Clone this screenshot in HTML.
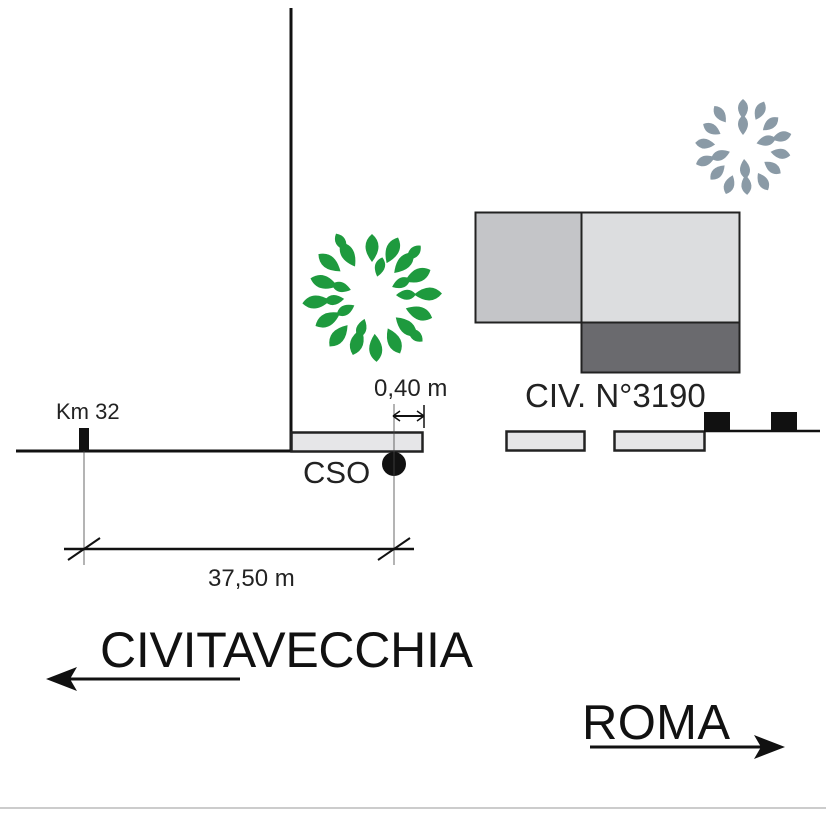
<!DOCTYPE html>
<html><head><meta charset="utf-8"><style>body{margin:0;background:#fff}svg{display:block}</style></head><body>
<svg width="826" height="826" viewBox="0 0 826 826" xmlns="http://www.w3.org/2000/svg" font-family="Liberation Sans, sans-serif">
<defs>
<path id="lf" d="M0,-14 Q13,-3 0,14 Q-13,-3 0,-14Z"/>
<path id="lg" d="M0,-10 Q10,-2 0,10 Q-10,-2 0,-10Z"/>
</defs>
<rect x="475.5" y="212.5" width="106" height="110" fill="#c4c5c8" stroke="#222" stroke-width="2"/>
<rect x="581.5" y="212.5" width="158" height="110" fill="#dcdddf" stroke="#222" stroke-width="2"/>
<rect x="581.5" y="322.5" width="158" height="50" fill="#6a6a6e" stroke="#222" stroke-width="2"/>
<g fill="#1e9a3e" transform="translate(372,296)">
<g transform="rotate(0)"><use href="#lf" y="-48"/><use href="#lg" y="-30" transform="rotate(15)"/></g>
<g transform="rotate(24)"><use href="#lf" y="-50"/></g>
<g transform="rotate(44)"><use href="#lf" y="-46"/><use href="#lg" y="-60"/></g>
<g transform="rotate(66)"><use href="#lf" y="-50"/><use href="#lg" y="-32"/></g>
<g transform="rotate(88)"><use href="#lf" y="-56"/><use href="#lg" y="-34"/></g>
<g transform="rotate(110)"><use href="#lf" y="-50"/></g>
<g transform="rotate(132)"><use href="#lf" y="-46"/><use href="#lg" y="-58"/></g>
<g transform="rotate(154)"><use href="#lf" y="-50"/></g>
<g transform="rotate(176)"><use href="#lf" y="-52"/></g>
<g transform="rotate(198)"><use href="#lf" y="-48"/><use href="#lg" y="-34"/></g>
<g transform="rotate(220)"><use href="#lf" y="-52"/></g>
<g transform="rotate(242)"><use href="#lf" y="-50"/><use href="#lg" y="-30"/></g>
<g transform="rotate(264)"><use href="#lf" y="-56"/><use href="#lg" y="-38"/></g>
<g transform="rotate(286)"><use href="#lf" y="-50"/><use href="#lg" y="-32"/></g>
<g transform="rotate(308)"><use href="#lf" y="-54"/></g>
<g transform="rotate(330)"><use href="#lf" y="-48"/><use href="#lg" y="-62"/></g>
</g>
<g fill="#8a9aa6" transform="translate(743,147)">
<g transform="rotate(0)"><use href="#lg" y="-38"/><use href="#lg" y="-22"/></g>
<g transform="rotate(25)"><use href="#lg" y="-40"/></g>
<g transform="rotate(50)"><use href="#lg" y="-36"/></g>
<g transform="rotate(75)"><use href="#lg" y="-40"/><use href="#lg" y="-24"/></g>
<g transform="rotate(100)"><use href="#lg" y="-38"/></g>
<g transform="rotate(125)"><use href="#lg" y="-36"/></g>
<g transform="rotate(150)"><use href="#lg" y="-40"/></g>
<g transform="rotate(175)"><use href="#lg" y="-38"/><use href="#lg" y="-22"/></g>
<g transform="rotate(200)"><use href="#lg" y="-40"/></g>
<g transform="rotate(225)"><use href="#lg" y="-36"/></g>
<g transform="rotate(250)"><use href="#lg" y="-40"/><use href="#lg" y="-24"/></g>
<g transform="rotate(275)"><use href="#lg" y="-38"/></g>
<g transform="rotate(300)"><use href="#lg" y="-36"/></g>
<g transform="rotate(325)"><use href="#lg" y="-40"/></g>
</g>
<line x1="291" y1="8" x2="291" y2="452" stroke="#111" stroke-width="3"/>
<line x1="16" y1="451" x2="292" y2="451" stroke="#111" stroke-width="3"/>
<rect x="291.5" y="432.5" width="131" height="19" fill="#e6e6e8" stroke="#222" stroke-width="2.5"/>
<rect x="506.5" y="431.5" width="78" height="19" fill="#e6e6e8" stroke="#222" stroke-width="2.5"/>
<rect x="614.5" y="431.5" width="90" height="19" fill="#e6e6e8" stroke="#222" stroke-width="2.5"/>
<line x1="704" y1="431" x2="820" y2="431" stroke="#111" stroke-width="2.5"/>
<rect x="704" y="412" width="26" height="20" fill="#111"/>
<rect x="771" y="412" width="26" height="20" fill="#111"/>
<rect x="79" y="428" width="10" height="23" fill="#111"/>
<text x="56" y="419" font-size="22" fill="#222">Km 32</text>
<circle cx="394" cy="464" r="12" fill="#111"/>
<text x="303" y="483" font-size="31" fill="#222">CSO</text>
<line x1="394" y1="404" x2="394" y2="565" stroke="#444" stroke-width="0.8"/>
<line x1="84" y1="451" x2="84" y2="565" stroke="#444" stroke-width="0.8"/>
<text x="374" y="396" font-size="24" fill="#222">0,40 m</text>
<line x1="393" y1="416" x2="424" y2="416" stroke="#111" stroke-width="2"/>
<line x1="424" y1="405" x2="424" y2="428" stroke="#111" stroke-width="1.5"/>
<path d="M393,416 l7,-5 M393,416 l7,5 M424,416 l-7,-5 M424,416 l-7,5" stroke="#111" stroke-width="1.5"/>
<line x1="64" y1="549" x2="414" y2="549" stroke="#111" stroke-width="2.5"/>
<path d="M68,560 L100,538 M378,560 L410,538" stroke="#111" stroke-width="2"/>
<text x="208" y="586" font-size="24" fill="#222">37,50 m</text>
<text x="525" y="407" font-size="33" fill="#222">CIV. N°3190</text>
<text x="100" y="667" font-size="50" fill="#111" textLength="373">CIVITAVECCHIA</text>
<line x1="60" y1="679" x2="240" y2="679" stroke="#111" stroke-width="3"/>
<path d="M46,679 L77,667 L70,679 L77,691Z" fill="#111"/>
<text x="582" y="739" font-size="49" fill="#111" textLength="148">ROMA</text>
<line x1="590" y1="747" x2="770" y2="747" stroke="#111" stroke-width="3"/>
<path d="M785,747 L754,735 L761,747 L754,759Z" fill="#111"/>
<line x1="0" y1="808" x2="826" y2="808" stroke="#999" stroke-width="1"/>
</svg>
</body></html>
